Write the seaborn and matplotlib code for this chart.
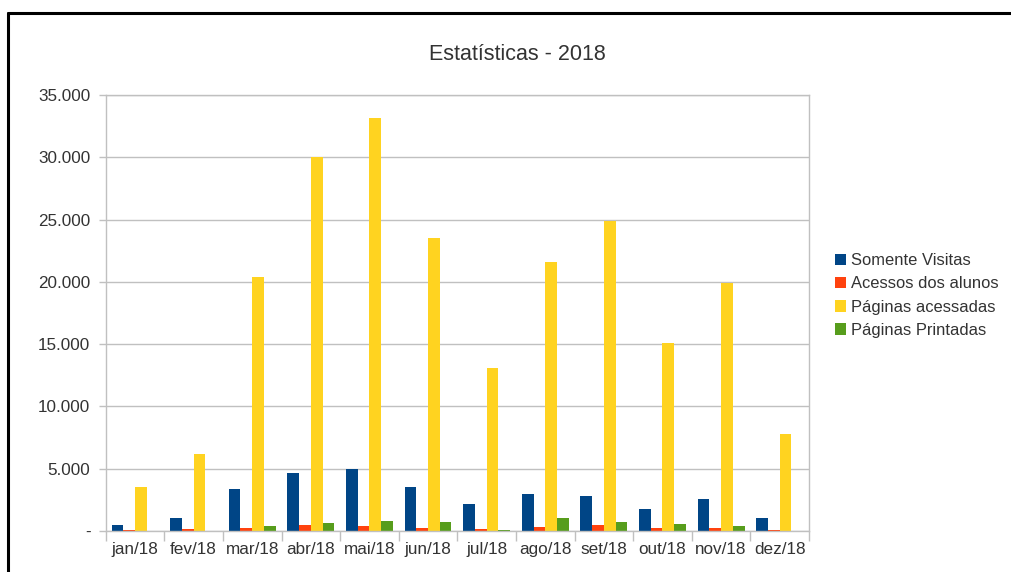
import matplotlib
matplotlib.use("Agg")
import matplotlib.pyplot as plt
from matplotlib.lines import Line2D
from matplotlib.ticker import FuncFormatter, FixedLocator
import seaborn as sns
import pandas as pd
import numpy as np

months = ["jan/18", "fev/18", "mar/18", "abr/18", "mai/18", "jun/18",
          "jul/18", "ago/18", "set/18", "out/18", "nov/18", "dez/18"]
series_names = ["Somente Visitas", "Acessos dos alunos", "Páginas acessadas", "Páginas Printadas"]
somente_visitas = [480, 1010, 3390, 4640, 4960, 3570, 2160, 2960, 2800, 1790, 2590, 1040]
acessos_alunos = [50, 130, 270, 450, 370, 270, 190, 290, 450, 210, 270, 100]
paginas_acessadas = [3520, 6190, 20400, 30000, 33150, 23540, 13050, 21600, 24900, 15130, 19940, 7770]
paginas_printadas = [20, 30, 400, 640, 780, 700, 100, 1070, 720, 590, 400, 20]
colors = ["#004586", "#ff420e", "#ffd320", "#579d1c"]

rows = []
for name, vals in zip(series_names, [somente_visitas, acessos_alunos, paginas_acessadas, paginas_printadas]):
    for m, v in zip(months, vals):
        rows.append({"mes": m, "serie": name, "valor": v})
df = pd.DataFrame(rows)

sns.set_theme(style="white")
plt.rcParams["font.family"] = ["Liberation Sans", "DejaVu Sans"]
text_color = "#333333"
grid_color = "#c0c0c0"

fig = plt.figure(figsize=(10.12, 5.72), dpi=100)
ax = fig.add_axes([105.7 / 1012, 1 - 531 / 572, (809 - 105.7) / 1012, (531 - 95) / 572])

sns.barplot(data=df, x="mes", y="valor", hue="serie", order=months, hue_order=series_names,
            palette=colors, saturation=1, width=0.8, ax=ax, linewidth=0, legend=False)

ax.set_ylim(0, 35000)
ax.set_xlim(-0.5, 11.5)
ax.set_yticks(np.arange(0, 35001, 5000))
ax.yaxis.set_major_formatter(FuncFormatter(lambda v, p: "-" if v == 0 else f"{v:,.0f}".replace(",", ".")))
ax.yaxis.grid(True, color=grid_color, linewidth=1)
ax.set_axisbelow(True)
ax.set_xlabel("")
ax.set_ylabel("")

ax.xaxis.set_minor_locator(FixedLocator(np.arange(-0.5, 12, 1)))
ax.tick_params(axis="x", which="major", length=0, labelsize=12.3, labelcolor=text_color, pad=8)
ax.tick_params(axis="x", which="minor", length=7, width=1, color=grid_color, direction="out", bottom=True)
ax.tick_params(axis="y", which="major", length=5, width=1, color=grid_color, direction="out", left=True,
               labelsize=12.3, labelcolor=text_color, pad=6)
for s in ax.spines.values():
    s.set_color(grid_color)
    s.set_linewidth(1)

fig.text(517 / 1012, 1 - 55 / 572, "Estatísticas - 2018", ha="center", va="center",
         fontsize=15.5, color=text_color)

handles = [plt.Rectangle((0, 0), 1, 1, facecolor=c, edgecolor="none") for c in colors]
fig.legend(handles, series_names, loc="center left", bbox_to_anchor=(820 / 1012, 1 - 295.5 / 572),
           bbox_transform=fig.transFigure, frameon=False, fontsize=11.9, handlelength=0.7,
           handleheight=0.7, handletextpad=0.3, labelspacing=0.5, labelcolor=text_color)

# outer frame (top and left edges)
fig.add_artist(Line2D([8 / 1012, 1.0], [1 - 13 / 572, 1 - 13 / 572], transform=fig.transFigure,
                      color="black", linewidth=2.2))
fig.add_artist(Line2D([8 / 1012, 8 / 1012], [0, 1 - 13 / 572], transform=fig.transFigure,
                      color="black", linewidth=2.2))

fig.savefig("out.png", dpi=100)
